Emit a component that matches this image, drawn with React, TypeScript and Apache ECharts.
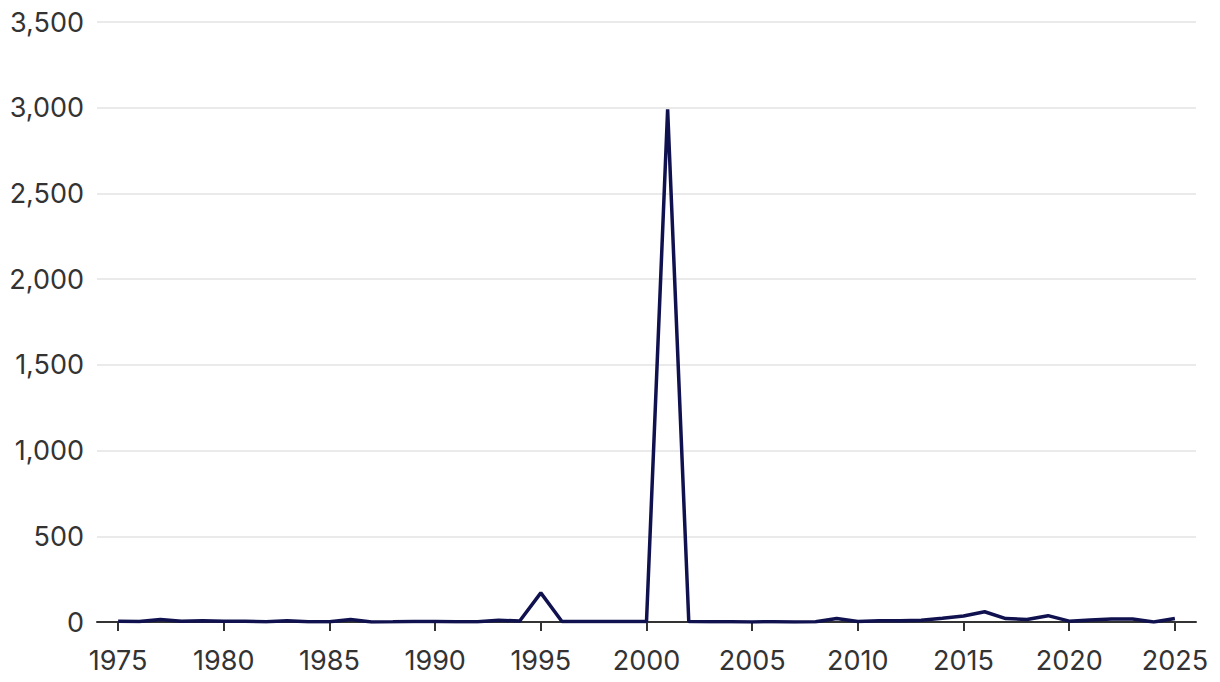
import React, { useEffect, useRef } from "react";
import * as echarts from "echarts";

const years: number[] = [];
for (let y = 1975; y <= 2025; y++) years.push(y);

const deaths: number[] = [
  4, 3, 15, 4, 8, 5, 4, 1, 8, 1, // 1975-1984
  2, 14, 0, 1, 3, 3, 2, 1, 10, 6, // 1985-1994
  170, 3, 3, 3, 3, 3, 2990, 3, 2, 2, // 1995-2004
  0, 2, 0, 2, 21, 3, 7, 7, 10, 22, // 2005-2014
  35, 60, 20, 15, 37, 5, 12, 17, 17, 0, // 2015-2024
  21, // 2025
];

const xTicks = [1975, 1980, 1985, 1990, 1995, 2000, 2005, 2010, 2015, 2020, 2025];

export default function App() {
  const ref = useRef<HTMLDivElement>(null);
  useEffect(() => {
    if (!ref.current) return;
    const chart = echarts.init(ref.current, undefined, { renderer: "svg" });
    const font = "Inter, 'Libre Franklin', 'DejaVu Sans', sans-serif";
    chart.setOption({
      animation: false,
      grid: { left: 97, right: 24, top: 22, bottom: 60, containLabel: false },
      xAxis: {
        type: "value",
        min: 1974,
        max: 2026,
        axisLine: { show: true, onZero: false, lineStyle: { color: "#333", width: 2 } },
        axisTick: { show: true, length: 9, lineStyle: { color: "#333", width: 2 }, customValues: xTicks },
        axisLabel: {
          customValues: xTicks,
          color: "#333",
          fontSize: 27,
          fontFamily: font,
          margin: 25,
          formatter: (v: number) => String(v),
        },
        splitLine: { show: false },
      },
      yAxis: {
        type: "value",
        min: 0,
        max: 3500,
        interval: 500,
        axisLine: { show: false },
        axisTick: { show: false },
        axisLabel: {
          color: "#333",
          fontSize: 27,
          fontFamily: font,
          margin: 13,
          formatter: (v: number) => v.toLocaleString("en-US"),
        },
        splitLine: { show: true, lineStyle: { color: "#e3e3e3", width: 1.5 } },
      },
      series: [
        {
          type: "line",
          data: years.map((y, i) => [y, deaths[i]]),
          showSymbol: false,
          symbol: "none",
          lineStyle: { color: "#10114f", width: 3.5 },
          z: 3,
        },
      ],
    });
    return () => chart.dispose();
  }, []);
  return (
    <div
      ref={ref}
      style={{ position: "fixed", left: 0, top: 0, width: 1220, height: 682, background: "#fff" }}
    />
  );
}
